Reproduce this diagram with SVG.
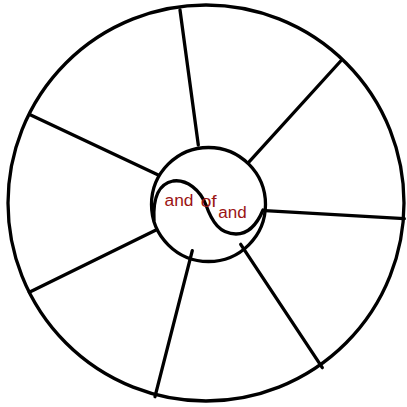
<svg xmlns="http://www.w3.org/2000/svg" width="407" height="407" viewBox="0 0 407 407">
<style>
.ln{fill:none;stroke:#000;stroke-width:3.3;stroke-linecap:round}
.t{font-family:"Liberation Sans",Arial,sans-serif;font-size:16px;fill:#9b1414}
</style>
<rect width="407" height="407" fill="#fff"/>
<g id="outer"><circle class="ln" cx="206" cy="203" r="198"/></g>
<g id="connectors">
<line class="ln" x1="180" y1="10" x2="198.3" y2="145"/>
<line class="ln" x1="340.7" y1="61" x2="249.3" y2="161.7"/>
<line class="ln" x1="265" y1="210.7" x2="404.3" y2="218.7"/>
<line class="ln" x1="240.7" y1="244.3" x2="322.3" y2="367.7"/>
<line class="ln" x1="192.3" y1="250.7" x2="155" y2="396.7"/>
<line class="ln" x1="156" y1="230" x2="29.3" y2="292.3"/>
<line class="ln" x1="158.3" y1="175" x2="30.7" y2="115"/>
</g>
<g id="inner">
<circle class="ln" cx="208.5" cy="204.5" r="57"/>
<path class="ln" d="M154,220 C153,200 158,184 173,181 C187,179 200,190 206,205 C212,222 220,234 236,234 C250,234 258,222 263,210"/>
<text class="t" x="164.5" y="206" textLength="29" lengthAdjust="spacingAndGlyphs">and</text>
<text class="t" x="200.7" y="207.3" textLength="16" lengthAdjust="spacingAndGlyphs">of</text>
<text class="t" x="218.3" y="218.3" textLength="28.4" lengthAdjust="spacingAndGlyphs">and</text>
</g>
</svg>
